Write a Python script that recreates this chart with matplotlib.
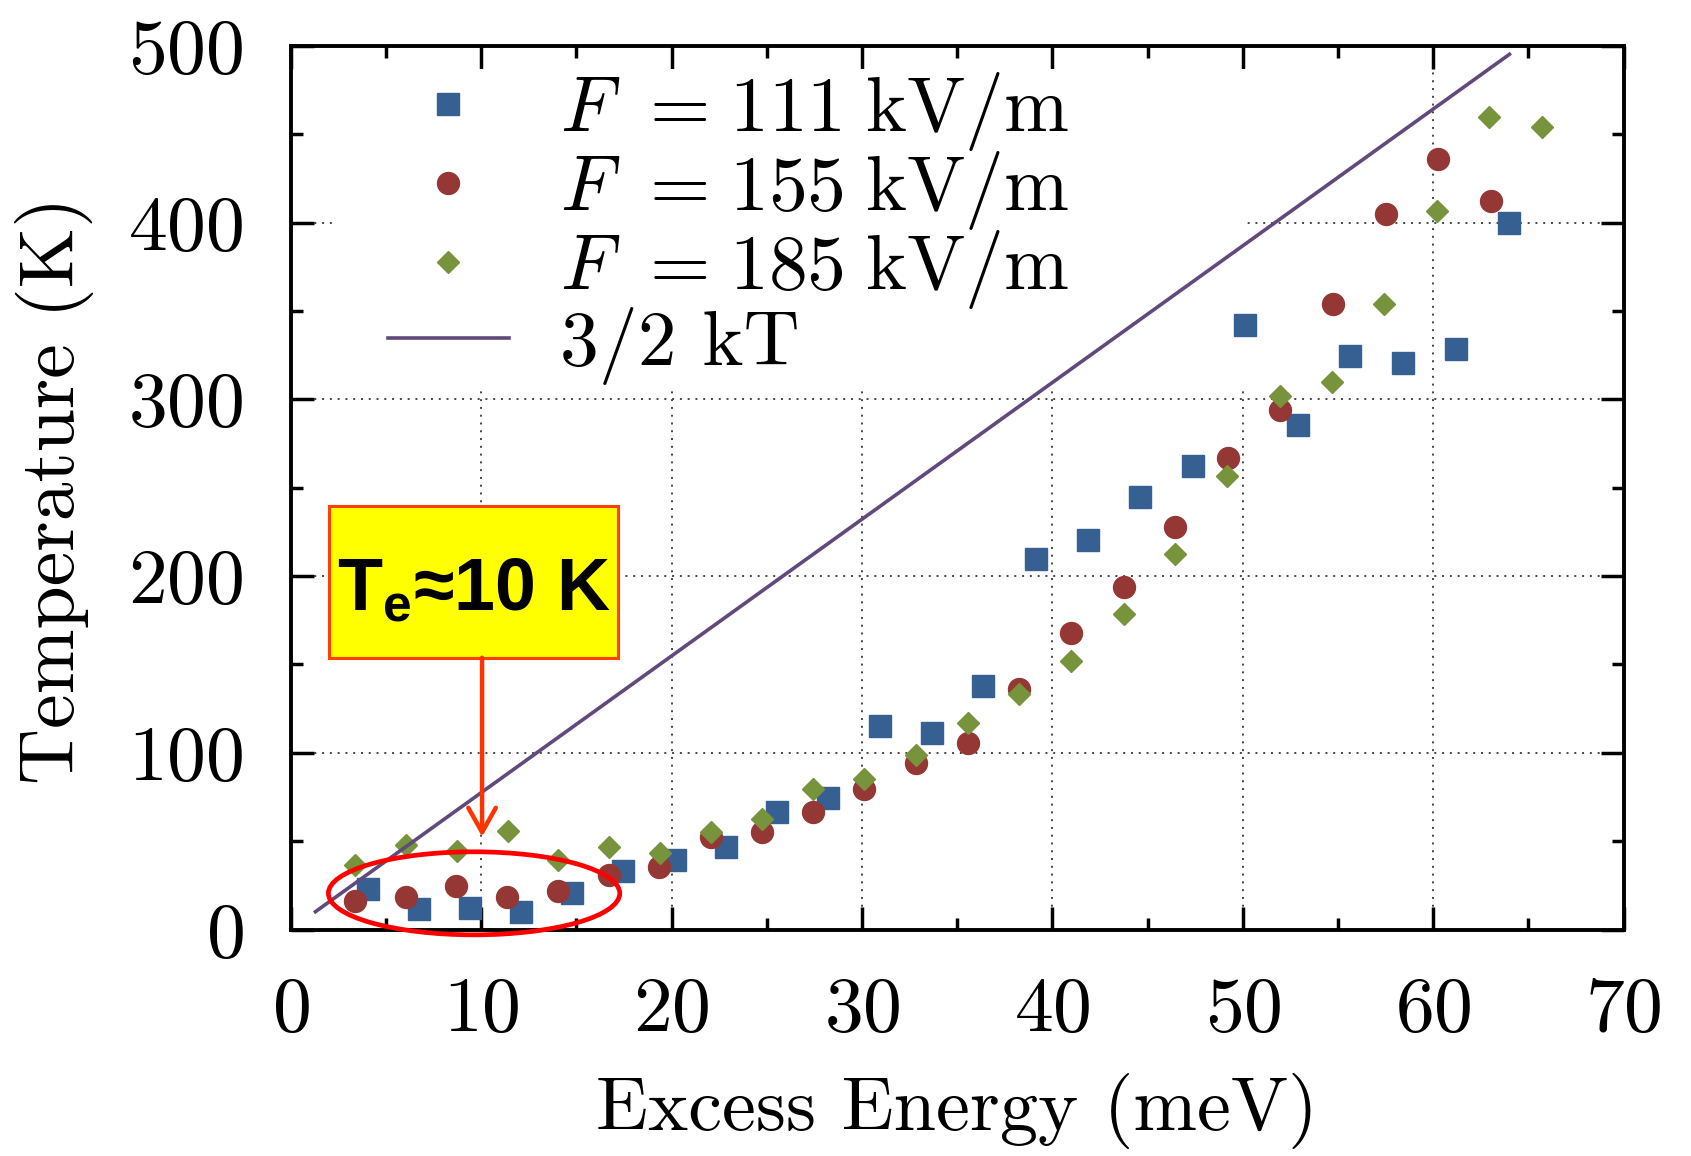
import matplotlib
matplotlib.use('Agg')
import matplotlib.pyplot as plt
from matplotlib.patches import Ellipse, Rectangle
from matplotlib.ticker import MultipleLocator

plt.rcParams['font.family'] = 'cmr10'
plt.rcParams['mathtext.fontset'] = 'cm'
plt.rcParams['axes.formatter.use_mathtext'] = True
plt.rcParams['mathtext.rm'] = 'Liberation Sans'
plt.rcParams['mathtext.bf'] = 'Liberation Sans:bold'
plt.rcParams['mathtext.it'] = 'Liberation Sans:italic'

# %% data
e111 = [4.08, 6.76, 9.42, 12.08, 14.76, 17.44, 20.19, 22.85, 25.53, 28.24, 30.95, 33.70,
        36.37, 39.15, 41.86, 44.61, 47.37, 50.10, 52.88, 55.65, 58.41, 61.20, 63.96]
t111 = [22.7, 11.4, 12.0, 10.1, 20.5, 33.2, 39.3, 46.9, 66.3, 74.6, 115.2, 111.0,
        137.8, 209.6, 220.4, 244.8, 262.6, 342.3, 285.3, 324.3, 320.4, 328.6, 400.1]

e155 = [3.38, 6.04, 8.69, 11.35, 14.03, 16.69, 19.36, 22.06, 24.74, 27.45, 30.13, 32.84,
        35.55, 38.26, 40.98, 43.74, 46.46, 49.22, 51.95, 54.71, 57.50, 60.26, 63.05]
t155 = [16.3, 18.2, 24.6, 18.2, 21.8, 30.8, 35.2, 52.5, 55.0, 66.7, 79.3, 94.4,
        105.7, 135.9, 167.6, 193.7, 228.0, 267.0, 294.0, 354.0, 405.1, 435.9, 412.1]

e185 = [3.38, 6.06, 8.72, 11.40, 14.06, 16.74, 19.40, 22.08, 24.77, 27.45, 30.13, 32.84,
        35.55, 38.26, 40.98, 43.74, 46.46, 49.18, 51.95, 54.67, 57.43, 60.17, 62.94, 65.70]
t185 = [36.5, 47.8, 44.4, 55.9, 39.3, 46.5, 43.5, 55.0, 62.5, 79.5, 85.2, 98.8,
        116.7, 133.5, 151.7, 178.8, 212.3, 256.8, 302.0, 309.8, 354.0, 406.6, 460.1, 454.3]

# 3/2 kT line end points
kt_e = [1.3, 64.0]
kt_t = [10.1, 495.3]

fields = ['111', '155', '185']
labels = [r'$F\hspace{0.38}=\hspace{0.08}%s\hspace{0.29}\mathrm{kV/m}$' % f
          for f in fields] + ['3/2 kT']

c_blue, c_red, c_green, c_line = '#376092', '#953735', '#77933C', '#604A7B'

# %%
fig = plt.figure(figsize=(16.91, 11.56), dpi=100)
ax = fig.add_axes([0.1719, 0.1959, 0.7883, 0.7643])

ax.set_xlim(0, 70)
ax.set_ylim(0, 500)
ax.xaxis.set_major_locator(MultipleLocator(10))
ax.xaxis.set_minor_locator(MultipleLocator(5))
ax.yaxis.set_major_locator(MultipleLocator(100))
ax.yaxis.set_minor_locator(MultipleLocator(50))
ax.tick_params(which='both', direction='in', top=True, right=True, width=2.5,
               labelsize=56)
ax.tick_params(which='major', length=16.5)
ax.tick_params(which='minor', length=8.6)
ax.tick_params(axis='x', pad=34)
ax.tick_params(axis='y', pad=34)
for sp in ax.spines.values():
    sp.set_linewidth(2.8)

ax.set_axisbelow(True)
ax.grid(which='major', linestyle=(0, (1, 3)), color='#444444', linewidth=1.4)

# white area behind the key hides the grid
ax.add_patch(Rectangle((2.43, 307), 50.15 - 2.43, 487 - 307, facecolor='white',
                       edgecolor='none', zorder=1))

h1, = ax.plot(e111, t111, 's', ms=15.8, color=c_blue, zorder=3)
h2, = ax.plot(e155, t155, 'o', ms=15.8, color=c_red, zorder=3)
h3, = ax.plot(e185, t185, 'D', ms=11.5, color=c_green, zorder=3)
h4, = ax.plot(kt_e, kt_t, '-', lw=2.6, color=c_line, zorder=4)

leg = ax.legend([h1, h2, h3, h4], labels, loc='upper left',
                bbox_to_anchor=(0.073, 0.973), frameon=False, fontsize=56,
                handlelength=1.55, handletextpad=0.66, labelspacing=-0.05,
                borderpad=0, borderaxespad=0)

# annotation
ax.add_patch(Ellipse((9.63, 20.5), 15.3, 47, fill=False, edgecolor='#FF0000',
                     lw=3.4, zorder=5, clip_on=False))
ax.add_patch(Rectangle((2.03, 153.8), 17.18 - 2.03, 239.7 - 153.8, facecolor='#FFFF00',
                       edgecolor='#FF4000', lw=2.2, zorder=5))
ax.text(9.63, 180.8, r'T$_{\mathbf{e}}$≈10 K', ha='center', va='baseline',
        fontsize=53, fontfamily='Liberation Sans', fontweight='bold',
        math_fontfamily='custom', zorder=6)
ax.annotate('', xy=(10.05, 52.5), xytext=(10.05, 153.8),
            arrowprops=dict(arrowstyle='->,head_length=0.8,head_width=0.45',
                            mutation_scale=22, color='#FF3300', lw=3.2,
                            shrinkA=0, shrinkB=0), zorder=6)

fig.text(0.032, 0.5755, 'Temperature (K)', rotation=90, ha='center', va='center',
         fontsize=56)
fig.text(0.566, 0.039, 'Excess Energy (meV)', ha='center', va='center', fontsize=55)

fig.savefig('out.png', dpi=100)
